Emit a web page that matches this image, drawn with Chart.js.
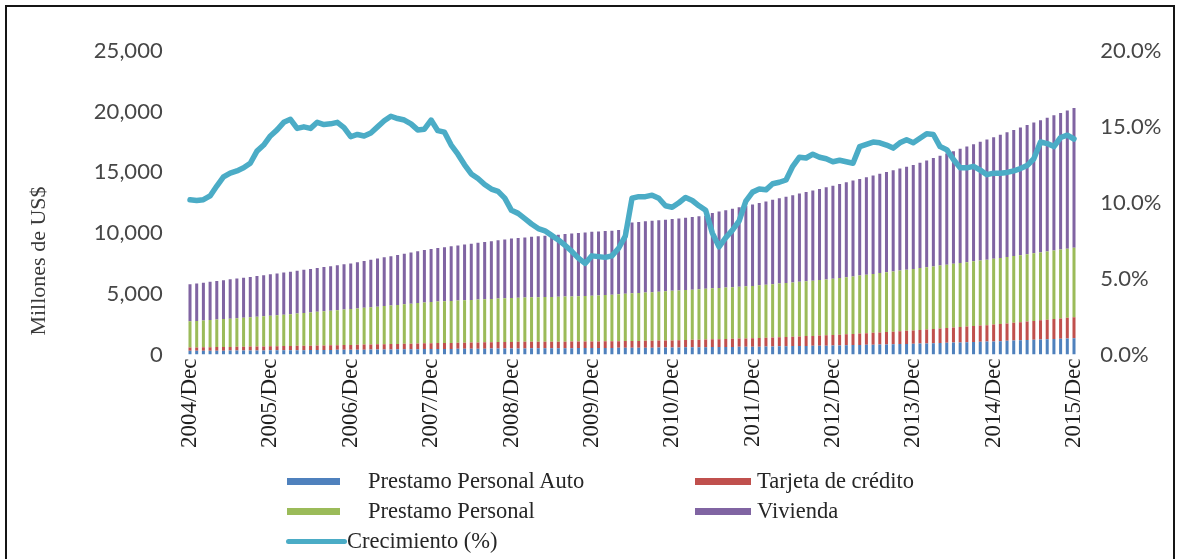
<!DOCTYPE html>
<html>
<head>
<meta charset="utf-8">
<title>Cartera de consumo y vivienda</title>
<script src="https://cdn.jsdelivr.net/npm/chart.js@4.4.1/dist/chart.umd.min.js"></script>
<style>
  html, body { margin: 0; padding: 0; background: #fff; }
  #wrap { position: relative; width: 1178px; height: 559px; overflow: hidden; }
  #frame { position: absolute; left: 5px; top: 5px; width: 1166px; height: 600px;
           border: 2px solid #151515; }
  #mychart { position: absolute; left: 0; top: 0; }
  #ytitle { position: absolute; left: -62px; top: 248px; width: 200px; text-align: center;
            transform: rotate(-90deg); font: 22px "Liberation Serif", serif; color: #3a3a3a;
            line-height: 26px; }
  .lg-swatch { position: absolute; height: 7px; }
  .lg-line { position: absolute; height: 5px; border-radius: 3px; }
  .lg-text { position: absolute; font: 22.5px "Liberation Serif", serif; color: #262626;
             line-height: 26px; white-space: nowrap; }
</style>
</head>
<body>
<div id="wrap">
  <div id="frame"></div>
  <canvas id="mychart" width="1178" height="559"></canvas>
  <div id="ytitle">Millones de US$</div>
  <div id="legend"></div>
</div>
<script>
// monthly series, Dec 2004 .. Dec 2015
var years = [2004, 2005, 2006, 2007, 2008, 2009, 2010, 2011, 2012, 2013, 2014, 2015]
var monthNames = ['Jan', 'Feb', 'Mar', 'Apr', 'May', 'Jun', 'Jul', 'Aug', 'Sep', 'Oct', 'Nov', 'Dec']

// Millones de US$
var autoLoans = [
  300, 302, 306, 309, 314, 316, 320, 324, 326, 331, 334, 337,
  341, 344, 349, 352, 357, 360, 366, 369, 372, 378, 381, 386,
  391, 394, 401, 405, 409, 416, 420, 424, 431, 434, 441, 446,
  450, 453, 459, 462, 467, 470, 476, 479, 482, 488, 491, 497,
  499, 503, 504, 508, 511, 512, 516, 517, 521, 522, 526, 528,
  531, 533, 539, 541, 547, 549, 556, 558, 564, 566, 572, 575,
  581, 584, 591, 594, 601, 604, 611, 614, 621, 624, 631, 636,
  641, 647, 657, 664, 674, 680, 691, 697, 707, 714, 724, 730,
  741, 751, 764, 774, 788, 797, 811, 821, 834, 844, 858, 867,
  881, 896, 914, 929, 948, 962, 981, 996, 1014, 1029, 1048, 1062,
  1081, 1101, 1124, 1144, 1168, 1187, 1211, 1231, 1254, 1274, 1298, 1317,
  1340
]
var creditCards = [
  280, 284, 288, 293, 297, 302, 305, 309, 314, 318, 322, 326,
  331, 336, 342, 347, 354, 359, 365, 371, 377, 383, 389, 395,
  400, 406, 413, 420, 427, 434, 440, 446, 453, 460, 467, 474,
  480, 485, 490, 494, 500, 505, 510, 516, 520, 525, 530, 536,
  540, 541, 542, 543, 541, 538, 539, 537, 538, 539, 540, 539,
  541, 543, 547, 550, 554, 557, 560, 563, 567, 570, 574, 577,
  581, 590, 600, 611, 620, 629, 641, 650, 660, 671, 680, 690,
  701, 713, 726, 740, 753, 766, 780, 794, 807, 820, 834, 847,
  861, 880, 901, 920, 940, 961, 980, 1000, 1021, 1040, 1060, 1081,
  1100, 1123, 1146, 1170, 1194, 1217, 1240, 1264, 1287, 1310, 1334, 1357,
  1381, 1409, 1438, 1467, 1497, 1526, 1556, 1584, 1614, 1643, 1672, 1701,
  1730
]
var personalLoans = [
  2150, 2180, 2211, 2240, 2271, 2300, 2330, 2361, 2390, 2420, 2451, 2480,
  2511, 2548, 2585, 2623, 2660, 2697, 2736, 2772, 2810, 2847, 2885, 2923,
  2960, 2996, 3034, 3070, 3106, 3144, 3180, 3216, 3254, 3290, 3326, 3364,
  3400, 3418, 3436, 3455, 3474, 3491, 3510, 3529, 3546, 3565, 3584, 3601,
  3620, 3631, 3644, 3655, 3666, 3679, 3690, 3701, 3714, 3725, 3736, 3749,
  3760, 3786, 3814, 3840, 3866, 3894, 3920, 3946, 3974, 4000, 4026, 4054,
  4080, 4099, 4119, 4138, 4156, 4176, 4195, 4215, 4233, 4252, 4272, 4291,
  4310, 4336, 4364, 4390, 4416, 4444, 4470, 4496, 4524, 4550, 4576, 4604,
  4630, 4666, 4704, 4740, 4776, 4814, 4850, 4886, 4924, 4960, 4996, 5034,
  5070, 5099, 5129, 5158, 5186, 5216, 5245, 5275, 5303, 5332, 5362, 5391,
  5420, 5445, 5471, 5495, 5520, 5546, 5570, 5595, 5621, 5645, 5670, 5696,
  5720
]
var housing = [
  3050, 3081, 3110, 3141, 3170, 3201, 3234, 3265, 3296, 3325, 3356, 3389,
  3420, 3447, 3476, 3502, 3531, 3557, 3586, 3612, 3641, 3667, 3696, 3722,
  3750, 3801, 3854, 3904, 3958, 4007, 4061, 4111, 4164, 4214, 4268, 4317,
  4370, 4412, 4458, 4499, 4544, 4586, 4631, 4672, 4718, 4759, 4804, 4846,
  4890, 4921, 4954, 4984, 5018, 5047, 5081, 5111, 5144, 5174, 5208, 5237,
  5270, 5265, 5276, 5270, 5281, 5300, 5840, 5852, 5864, 5875, 5888, 5898,
  5910, 5935, 5961, 5984, 6006, 6030, 6210, 6291, 6370, 6459, 6541, 6620,
  6700, 6782, 6861, 6944, 7022, 7105, 7184, 7267, 7346, 7429, 7507, 7590,
  7670, 7744, 7816, 7891, 7962, 8038, 8109, 8184, 8256, 8331, 8402, 8478,
  8550, 8674, 8794, 8919, 9039, 9164, 9284, 9409, 9529, 9654, 9774, 9899,
  10020, 10145, 10267, 10394, 10516, 10642, 10764, 10890, 11012, 11139, 11261, 11387,
  11510
]
// crecimiento anual, %
var growth = [
  10.2, 10.15, 10.2, 10.45, 11.1, 11.7, 11.95, 12.1, 12.3, 12.6, 13.4, 13.8,
  14.4, 14.8, 15.3, 15.5, 14.9, 15.0, 14.9, 15.3, 15.15, 15.2, 15.3, 14.95,
  14.35, 14.5, 14.4, 14.6, 15.0, 15.4, 15.7, 15.55, 15.45, 15.2, 14.8, 14.85,
  15.45, 14.75, 14.65, 13.8, 13.2, 12.5, 11.9, 11.6, 11.2, 10.9, 10.75, 10.3,
  9.5, 9.3, 8.95, 8.6, 8.3, 8.15, 7.85, 7.55, 7.2, 6.8, 6.35, 6.0,
  6.5, 6.45, 6.4, 6.5, 7.0, 7.8, 10.3, 10.4, 10.4, 10.5, 10.3, 9.8,
  9.7, 10.0, 10.35, 10.15, 9.8, 9.5, 8.0, 7.1, 7.7, 8.2, 8.8, 10.1,
  10.7, 10.9, 10.85, 11.25, 11.35, 11.5, 12.4, 13.0, 12.95, 13.2, 13.0, 12.9,
  12.7, 12.8, 12.7, 12.6, 13.7, 13.85, 14.0, 13.95, 13.8, 13.6, 13.95, 14.15,
  13.95, 14.25, 14.55, 14.5, 13.7, 13.5, 12.85, 12.3, 12.3, 12.4, 12.15, 11.85,
  11.95, 11.95, 12.0, 12.1, 12.25, 12.45, 12.9, 14.0, 13.9, 13.7, 14.3, 14.45,
  14.2
]

var leftTicks = [0, 5000, 10000, 15000, 20000, 25000]
var rightTicks = [0, 5, 10, 15, 20]

// build month labels, first one is 2004/Dec
var labels = []
labels.push(years[0] + '/Dec')
for (var y = 1; y < years.length; y++) {
  monthNames.forEach(function (m) { labels.push(years[y] + '/' + m) })
}

var tickFont = { family: 'Lato', size: 22 }
var barStyle = { barPercentage: 0.45, categoryPercentage: 1.0, order: 1, yAxisID: 'y', stack: 'cartera' }

var datasets = [
  Object.assign({ label: 'Prestamo Personal Auto', data: autoLoans, backgroundColor: '#4f81bd' }, barStyle),
  Object.assign({ label: 'Tarjeta de crédito', data: creditCards, backgroundColor: '#c0504d' }, barStyle),
  Object.assign({ label: 'Prestamo Personal', data: personalLoans, backgroundColor: '#9bbb59' }, barStyle),
  Object.assign({ label: 'Vivienda', data: housing, backgroundColor: '#8064a2' }, barStyle),
  {
    type: 'line', label: 'Crecimiento (%)', data: growth, yAxisID: 'y2', order: 0,
    borderColor: '#4bacc6', borderWidth: 5.5, pointRadius: 0, tension: 0,
    borderJoinStyle: 'round', borderCapStyle: 'round'
  }
]

var ctx = document.getElementById('mychart')
var myChart = new Chart(ctx, {
  type: 'bar',
  data: { labels: labels, datasets: datasets },
  options: {
    responsive: false,
    animation: false,
    layout: { padding: { top: 51, left: 0, right: 0, bottom: 0 } },
    plugins: { legend: { display: false }, tooltip: { enabled: false } },
    scales: {
      x: {
        stacked: true,
        grid: { display: false, drawTicks: false },
        border: { display: false },
        afterFit: function (scale) { scale.height = 204.5 },
        ticks: {
          autoSkip: false, minRotation: 90, maxRotation: 90, padding: 4,
          color: '#1f1f1f', font: { family: 'Liberation Serif', size: 23 },
          callback: function (val, i) { return labels[i].slice(-3) === 'Dec' ? labels[i] : '' }
        }
      },
      y: {
        stacked: true, position: 'left', min: 0, max: 25000,
        grid: { display: false, drawTicks: false },
        border: { display: false },
        afterFit: function (scale) { scale.width = 186.65 },
        afterBuildTicks: function (scale) { scale.ticks = leftTicks.map(function (v) { return { value: v } }) },
        ticks: {
          padding: 24, color: '#474747', font: tickFont,
          callback: function (v) { return v.toLocaleString('en-US') }
        }
      },
      y2: {
        position: 'right', min: 0, max: 20,
        grid: { display: false, drawTicks: false },
        border: { display: false },
        afterFit: function (scale) { scale.width = 1178 - 1077.35 },
        afterBuildTicks: function (scale) { scale.ticks = rightTicks.map(function (v) { return { value: v } }) },
        ticks: {
          padding: 23, color: '#474747', font: tickFont,
          callback: function (v) { return v.toFixed(1) + '%' }
        }
      }
    }
  }
})

// legend, two columns plus the line entry underneath
var legendSpots = [
  { sx: 287, tx: 368, y: 481 },
  { sx: 695, tx: 757, y: 481 },
  { sx: 287, tx: 368, y: 511 },
  { sx: 695, tx: 757, y: 511 },
  { sx: 286, tx: 347, y: 541 }
]
var legend = document.getElementById('legend')
myChart.data.datasets.forEach(function (ds, i) {
  var spot = legendSpots[i]
  var sw = document.createElement('div')
  if (ds.type === 'line') {
    sw.className = 'lg-line'
    sw.style.left = spot.sx + 'px'
    sw.style.width = (spot.tx - spot.sx) + 'px'
    sw.style.top = (spot.y - 2.5) + 'px'
    sw.style.background = ds.borderColor
  } else {
    sw.className = 'lg-swatch'
    sw.style.left = spot.sx + 'px'
    sw.style.width = (i % 2 ? 56 : 53) + 'px'
    sw.style.top = (spot.y - 3.5) + 'px'
    sw.style.background = ds.backgroundColor
  }
  legend.appendChild(sw)
  var tx = document.createElement('div')
  tx.className = 'lg-text'
  tx.style.left = spot.tx + 'px'
  tx.style.top = (spot.y - 13) + 'px'
  tx.textContent = ds.label
  legend.appendChild(tx)
})
</script>
</body>
</html>
